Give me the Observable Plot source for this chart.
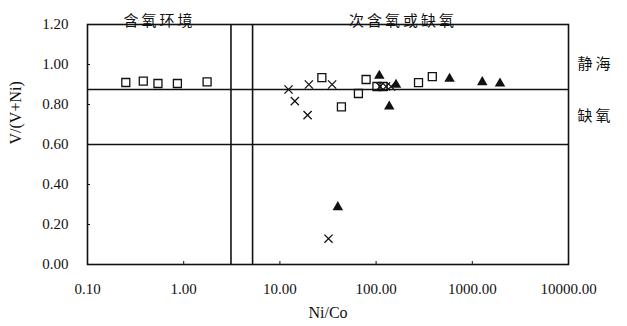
<!DOCTYPE html>
<html>
<head>
<meta charset="utf-8">
<script src="https://cdn.jsdelivr.net/npm/d3@7"></script>
<script src="https://cdn.jsdelivr.net/npm/@observablehq/plot@0.6"></script>
<style>
  html, body { margin: 0; padding: 0; background: #fff; }
  #chart svg { display: block; }
  #chart g[font-family*="Noto"] text, #chart text[font-family*="Noto"] { letter-spacing: 3px; }
</style>
</head>
<body>
<div id="chart"></div>
<script>
// Ni/Co vs V/(V+Ni) redox discrimination plot
const xTicks = [0.1, 1, 10, 100, 1000, 10000];
const yTicks = [0, 0.2, 0.4, 0.6, 0.8, 1.0, 1.2];

// boundary lines
const niCoBounds = [3.1, 5.2];
const vBounds = [0.6, 0.875];

// zone labels
const topLabels = ["含氧环境", "次含氧或缺氧"];
const topLabelX = [0.56, 190];
const sideLabels = ["静海", "缺氧"];
const sideLabelY = [1.0, 0.74];

// samples drawn as open squares
const squareNiCo = [0.25, 0.38, 0.54, 0.86, 1.75, 27.3, 43.6, 65.5, 78.7, 102, 118, 276, 384];
const squareV    = [0.91, 0.917, 0.905, 0.905, 0.913, 0.934, 0.788, 0.855, 0.925, 0.89, 0.89, 0.909, 0.939];

// samples drawn as crosses
const crossNiCo = [12.3, 14.3, 19.4, 20.0, 34.9, 32.0, 110, 127, 143];
const crossV    = [0.875, 0.817, 0.747, 0.90, 0.90, 0.129, 0.89, 0.89, 0.89];

// samples drawn as filled triangles
const triNiCo = [108, 161, 137, 580, 1270, 1940, 40];
const triV    = [0.944, 0.899, 0.79, 0.929, 0.912, 0.905, 0.287];

const zip = (xs, ys) => xs.map((x, i) => ({x, y: ys[i]}));
const squares = zip(squareNiCo, squareV);
const crosses = zip(crossNiCo, crossV);
const triangles = zip(triNiCo, triV);

const fmt = d => d.toFixed(2);
const ink = "#111";
const cjk = "'Noto Sans CJK SC', sans-serif";

const chart = Plot.plot({
  width: 627,
  height: 326,
  marginLeft: 87,
  marginRight: 59,
  marginTop: 24,
  marginBottom: 62,
  style: {fontFamily: "'Liberation Serif', 'Times New Roman', serif", fontSize: "15px", background: "#fff", color: ink},
  x: {type: "log", domain: [0.1, 10000]},
  y: {domain: [0, 1.2]},
  marks: [
    // inward tick marks
    Plot.axisX(xTicks, {tickSize: 3, dy: -3, text: null, label: null, stroke: ink}),
    Plot.axisY(yTicks, {tickSize: 3, dx: 3, text: null, label: null, stroke: ink}),
    // tick labels
    Plot.axisX(xTicks, {tickSize: 0, tickPadding: 19, tickFormat: fmt, label: null, fill: ink}),
    Plot.axisY(yTicks, {tickSize: 0, tickPadding: 19, tickFormat: fmt, label: null, fill: ink}),
    // axis titles
    Plot.text(["Ni/Co"], {frameAnchor: "bottom", dy: 53, fontSize: 16, fill: ink}),
    Plot.text(["V/(V+Ni)"], {frameAnchor: "left", dx: -72, rotate: -90, fontSize: 16, fill: ink}),
    // boundaries
    Plot.ruleY(vBounds, {stroke: ink, strokeWidth: 1.6}),
    Plot.ruleX(niCoBounds, {stroke: ink, strokeWidth: 1.6}),
    Plot.frame({stroke: ink, strokeWidth: 1.6}),
    // zone labels
    Plot.text(topLabels, {x: topLabelX, frameAnchor: "top", dy: -9, fontSize: 15, fontFamily: cjk, fill: ink}),
    Plot.text(sideLabels, {y: sideLabelY, frameAnchor: "right", dx: 9, textAnchor: "start", fontSize: 15, fontFamily: cjk, fill: ink}),
    // samples
    Plot.dot(squares, {x: "x", y: "y", symbol: "square", r: 4.5, stroke: ink, strokeWidth: 1.3, fill: "none"}),
    Plot.dot(crosses, {x: "x", y: "y", symbol: "times", r: 3.8, stroke: ink, strokeWidth: 1.3}),
    Plot.dot(triangles, {x: "x", y: "y", symbol: "triangle", r: 3.9, fill: ink, stroke: "none"})
  ]
});
document.getElementById("chart").append(chart);
</script>
</body>
</html>
